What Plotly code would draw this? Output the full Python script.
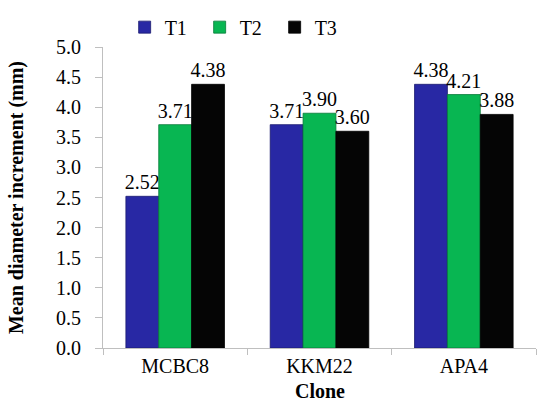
import plotly.graph_objects as go

clones = ["MCBC8", "KKM22", "APA4"]
t1 = [2.52, 3.71, 4.38]
t2 = [3.71, 3.90, 4.21]
t3 = [4.38, 3.60, 3.88]
series = [("T1", t1, "#2828A4", "#1a1a70"),
          ("T2", t2, "#08B652", "#067a38"),
          ("T3", t3, "#050505", "#000000")]
y_ticks = [0.0, 0.5, 1.0, 1.5, 2.0, 2.5, 3.0, 3.5, 4.0, 4.5, 5.0]

FONT = "Liberation Serif"
fig = go.Figure()
for name, vals, col, edge in series:
    fig.add_trace(go.Bar(
        name=name, x=clones, y=vals,
        marker=dict(color=col, line=dict(color=edge, width=0.8)),
        text=[f"{v:.2f}" for v in vals], textposition="outside",
        constraintext="none", cliponaxis=False,
        textfont=dict(family=FONT, size=20, color="#000000"),
    ))

fig.add_annotation(text="<b>Clone</b>", xref="paper", yref="paper",
                   x=0.5, y=-0.142, yanchor="middle", showarrow=False,
                   font=dict(family=FONT, size=20, color="#000000"))

fig.update_layout(
    width=539, height=401,
    margin=dict(l=103, r=3, t=47, b=53),
    paper_bgcolor="white", plot_bgcolor="white",
    barmode="group", bargap=0.317, bargroupgap=0,
    font=dict(family=FONT, size=20, color="#000000"),
    showlegend=True,
    legend=dict(orientation="h", x=0.05, xanchor="left", y=1.066, yanchor="middle",
                entrywidth=30, entrywidthmode="pixels",
                font=dict(family=FONT, size=20, color="#000000"), itemwidth=30,
                bgcolor="rgba(0,0,0,0)"),
    xaxis=dict(showline=True, linecolor="#BFBFBF", linewidth=1,
               ticks="outside", tickson="boundaries", ticklen=6, tickcolor="#BFBFBF",
               tickfont=dict(family=FONT, size=20, color="#000000"),
               showgrid=False),
    yaxis=dict(range=[0, 5], tickvals=y_ticks, ticktext=[f"{v:.1f}" for v in y_ticks],
               showline=True, linecolor="#BFBFBF", linewidth=1,
               ticks="outside", ticklen=7, tickcolor="#BFBFBF",
               ticklabelstandoff=10,
               tickfont=dict(family=FONT, size=20, color="#000000"),
               title=dict(text="<b>Mean diameter increment (mm)</b>",
                          font=dict(family=FONT, size=20, color="#000000"), standoff=27),
               showgrid=False, zeroline=False),
)
fig.write_html("out.html", config={"displayModeBar": False},
               post_script="document.body.style.margin='0';")
